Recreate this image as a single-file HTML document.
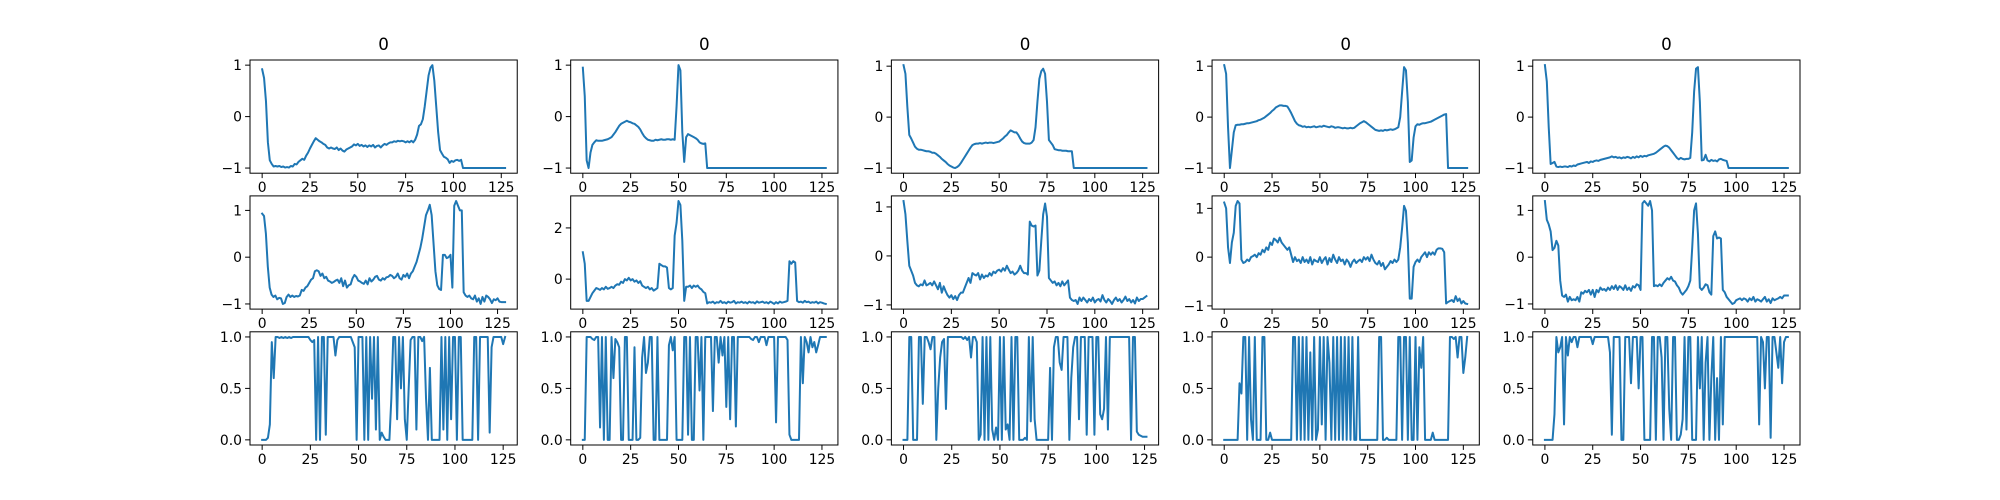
<!DOCTYPE html>
<html><head><meta charset="utf-8"><style>
html,body{margin:0;padding:0;background:#fff}
svg{display:block}
text{font-family:"DejaVu Sans","Liberation Sans",sans-serif;fill:#000}
</style></head><body>
<svg id="fig" width="2000" height="500" viewBox="0 0 2000 500" xmlns="http://www.w3.org/2000/svg"></svg>
<script>
const xTicks=[0,25,50,75,100,125];
const titles=["0","0","0","0","0"];
const a1=[0.92,0.75,0.3,-0.5,-0.85,-0.92,-0.97,-0.96,-0.97,-0.96,-0.98,-0.97,-0.99,-0.98,-0.99,-0.96,-0.97,-0.92,-0.93,-0.88,-0.85,-0.82,-0.84,-0.76,-0.7,-0.62,-0.55,-0.48,-0.42,-0.45,-0.48,-0.5,-0.53,-0.55,-0.6,-0.62,-0.6,-0.62,-0.63,-0.6,-0.65,-0.62,-0.66,-0.68,-0.64,-0.62,-0.6,-0.58,-0.54,-0.56,-0.53,-0.57,-0.55,-0.58,-0.56,-0.59,-0.56,-0.58,-0.55,-0.6,-0.57,-0.56,-0.6,-0.56,-0.53,-0.55,-0.52,-0.5,-0.5,-0.48,-0.49,-0.47,-0.48,-0.47,-0.48,-0.5,-0.48,-0.5,-0.47,-0.5,-0.45,-0.35,-0.18,-0.15,-0.05,0.2,0.5,0.8,0.95,1.0,0.7,0.2,-0.3,-0.65,-0.72,-0.78,-0.8,-0.83,-0.9,-0.86,-0.88,-0.85,-0.84,-0.86,-0.84,-1,-1,-1,-1,-1,-1,-1,-1,-1,-1,-1,-1,-1,-1,-1,-1,-1,-1,-1,-1,-1,-1,-1];
const b1=[0.95,0.4,-0.85,-1,-0.7,-0.55,-0.5,-0.46,-0.47,-0.47,-0.47,-0.46,-0.45,-0.44,-0.42,-0.4,-0.35,-0.3,-0.24,-0.18,-0.14,-0.12,-0.1,-0.08,-0.1,-0.11,-0.13,-0.14,-0.17,-0.2,-0.25,-0.32,-0.38,-0.42,-0.45,-0.46,-0.47,-0.47,-0.45,-0.46,-0.45,-0.44,-0.45,-0.45,-0.44,-0.44,-0.45,-0.44,-0.45,0.2,1.0,0.9,-0.3,-0.88,-0.4,-0.34,-0.36,-0.38,-0.4,-0.42,-0.45,-0.5,-0.52,-0.53,-0.52,-1,-1,-1,-1,-1,-1,-1,-1,-1,-1,-1,-1,-1,-1,-1,-1,-1,-1,-1,-1,-1,-1,-1,-1,-1,-1,-1,-1,-1,-1,-1,-1,-1,-1,-1,-1,-1,-1,-1,-1,-1,-1,-1,-1,-1,-1,-1,-1,-1,-1,-1,-1,-1,-1,-1,-1,-1,-1,-1,-1,-1,-1,-1];
const c1=[1.02,0.85,0.2,-0.35,-0.42,-0.5,-0.58,-0.62,-0.64,-0.64,-0.65,-0.66,-0.67,-0.67,-0.68,-0.7,-0.7,-0.72,-0.75,-0.78,-0.82,-0.85,-0.88,-0.92,-0.95,-0.97,-0.99,-1,-0.98,-0.95,-0.9,-0.84,-0.78,-0.72,-0.66,-0.6,-0.55,-0.53,-0.52,-0.52,-0.51,-0.52,-0.51,-0.5,-0.51,-0.5,-0.5,-0.51,-0.5,-0.49,-0.48,-0.45,-0.42,-0.38,-0.35,-0.3,-0.26,-0.28,-0.3,-0.3,-0.35,-0.42,-0.48,-0.51,-0.52,-0.52,-0.52,-0.5,-0.45,-0.2,0.3,0.75,0.9,0.95,0.85,0.3,-0.45,-0.5,-0.55,-0.63,-0.64,-0.65,-0.65,-0.66,-0.66,-0.66,-0.67,-0.67,-0.67,-1,-1,-1,-1,-1,-1,-1,-1,-1,-1,-1,-1,-1,-1,-1,-1,-1,-1,-1,-1,-1,-1,-1,-1,-1,-1,-1,-1,-1,-1,-1,-1,-1,-1,-1,-1,-1,-1,-1];
const d1=[1.02,0.85,-0.2,-1,-0.65,-0.3,-0.16,-0.15,-0.15,-0.14,-0.14,-0.13,-0.12,-0.12,-0.11,-0.1,-0.09,-0.08,-0.06,-0.05,-0.03,-0.01,0.02,0.05,0.08,0.12,0.15,0.19,0.21,0.23,0.23,0.22,0.22,0.21,0.15,0.08,0.0,-0.08,-0.13,-0.16,-0.17,-0.19,-0.18,-0.2,-0.19,-0.2,-0.19,-0.18,-0.2,-0.19,-0.18,-0.19,-0.17,-0.18,-0.19,-0.2,-0.18,-0.19,-0.21,-0.2,-0.2,-0.21,-0.22,-0.21,-0.22,-0.22,-0.21,-0.22,-0.21,-0.18,-0.15,-0.12,-0.1,-0.08,-0.1,-0.13,-0.16,-0.19,-0.22,-0.25,-0.26,-0.27,-0.26,-0.27,-0.25,-0.26,-0.25,-0.24,-0.25,-0.24,-0.22,-0.2,0.0,0.5,0.98,0.92,0.3,-0.88,-0.85,-0.4,-0.18,-0.14,-0.15,-0.13,-0.12,-0.12,-0.11,-0.1,-0.09,-0.07,-0.05,-0.03,-0.01,0.01,0.03,0.05,0.06,-1,-1,-1,-1,-1,-1,-1,-1,-1,-1,-1];
const e1=[1.02,0.7,-0.2,-0.92,-0.9,-0.88,-0.97,-0.98,-0.97,-0.98,-0.97,-0.97,-0.98,-0.96,-0.97,-0.95,-0.96,-0.93,-0.92,-0.91,-0.9,-0.89,-0.88,-0.9,-0.87,-0.88,-0.86,-0.85,-0.86,-0.84,-0.83,-0.82,-0.81,-0.8,-0.79,-0.77,-0.79,-0.78,-0.8,-0.79,-0.81,-0.79,-0.8,-0.78,-0.79,-0.81,-0.78,-0.8,-0.77,-0.79,-0.76,-0.78,-0.76,-0.77,-0.75,-0.74,-0.73,-0.72,-0.7,-0.67,-0.64,-0.61,-0.58,-0.56,-0.57,-0.6,-0.65,-0.7,-0.75,-0.8,-0.83,-0.8,-0.82,-0.83,-0.82,-0.82,-0.8,-0.3,0.5,0.95,0.98,0.3,-0.85,-0.84,-0.74,-0.85,-0.87,-0.84,-0.86,-0.85,-0.87,-0.83,-0.82,-0.84,-0.85,-0.86,-1,-1,-1,-1,-1,-1,-1,-1,-1,-1,-1,-1,-1,-1,-1,-1,-1,-1,-1,-1,-1,-1,-1,-1,-1,-1,-1,-1,-1,-1,-1,-1];
const a2=[0.93,0.88,0.5,-0.2,-0.65,-0.8,-0.85,-0.82,-0.9,-0.87,-0.88,-1,-0.98,-0.85,-0.8,-0.85,-0.82,-0.85,-0.83,-0.84,-0.82,-0.7,-0.72,-0.65,-0.62,-0.55,-0.48,-0.45,-0.3,-0.28,-0.3,-0.4,-0.35,-0.45,-0.42,-0.5,-0.52,-0.55,-0.53,-0.5,-0.48,-0.55,-0.45,-0.62,-0.5,-0.65,-0.6,-0.58,-0.45,-0.38,-0.42,-0.5,-0.52,-0.55,-0.57,-0.5,-0.58,-0.45,-0.52,-0.48,-0.42,-0.4,-0.48,-0.5,-0.45,-0.48,-0.43,-0.42,-0.38,-0.4,-0.45,-0.42,-0.35,-0.45,-0.48,-0.38,-0.42,-0.35,-0.45,-0.35,-0.3,-0.2,-0.1,0.05,0.2,0.4,0.65,0.9,1.0,1.12,0.9,0.3,-0.3,-0.6,-0.68,-0.7,0.05,0.05,-0.02,0.0,0.05,-0.65,1.1,1.2,1.1,1.0,1.0,-0.75,-0.82,-0.85,-0.82,-0.88,-0.9,-0.82,-0.95,-0.88,-1,-0.85,-0.95,-0.82,-0.85,-0.9,-0.98,-0.9,-0.92,-0.88,-0.95,-0.96,-0.96,-0.96];
const b2=[1.05,0.6,-0.85,-0.85,-0.7,-0.55,-0.45,-0.35,-0.38,-0.42,-0.35,-0.4,-0.3,-0.38,-0.35,-0.3,-0.35,-0.25,-0.2,-0.22,-0.1,-0.15,0.0,-0.05,0.05,-0.05,0.0,-0.1,-0.05,-0.15,-0.08,-0.25,-0.3,-0.35,-0.3,-0.4,-0.35,-0.45,-0.4,-0.35,0.6,0.55,0.5,0.5,0.45,-0.35,-0.4,-0.35,1.7,2.2,3.05,2.9,1.5,-0.85,-0.3,-0.3,-0.25,-0.35,-0.25,-0.3,-0.25,-0.35,-0.4,-0.5,-0.55,-0.95,-0.9,-0.92,-0.88,-0.95,-0.9,-0.92,-0.85,-0.93,-0.9,-0.95,-0.88,-0.92,-0.9,-0.85,-0.95,-0.9,-0.92,-0.88,-0.93,-0.9,-0.95,-0.88,-0.92,-0.9,-0.95,-0.87,-0.92,-0.9,-0.88,-0.93,-0.9,-0.95,-0.88,-0.92,-0.97,-0.9,-0.95,-0.88,-0.92,-0.9,-0.88,-0.85,0.7,0.6,0.7,0.65,-0.85,-0.9,-0.88,-0.92,-0.85,-0.9,-0.88,-0.93,-0.9,-0.92,-0.88,-0.95,-0.9,-0.92,-0.95,-0.97];
const c2=[1.12,0.85,0.3,-0.2,-0.3,-0.4,-0.55,-0.6,-0.62,-0.58,-0.6,-0.5,-0.6,-0.58,-0.55,-0.6,-0.52,-0.6,-0.68,-0.55,-0.75,-0.62,-0.72,-0.8,-0.85,-0.8,-0.88,-0.82,-0.9,-0.8,-0.75,-0.75,-0.65,-0.55,-0.45,-0.55,-0.35,-0.38,-0.4,-0.35,-0.48,-0.38,-0.45,-0.4,-0.42,-0.35,-0.4,-0.32,-0.35,-0.3,-0.28,-0.32,-0.25,-0.3,-0.2,-0.28,-0.35,-0.32,-0.38,-0.35,-0.3,-0.2,-0.3,-0.35,-0.35,-0.38,0.7,0.62,0.6,0.62,-0.4,-0.3,0.3,0.85,1.07,0.8,-0.45,-0.5,-0.55,-0.52,-0.6,-0.55,-0.62,-0.52,-0.6,-0.55,-0.5,-0.85,-0.9,-0.92,-0.9,-0.98,-0.85,-0.92,-0.85,-0.9,-0.95,-0.88,-0.92,-0.85,-0.95,-0.9,-0.88,-0.93,-0.8,-0.9,-0.95,-0.88,-0.92,-0.98,-0.9,-0.85,-0.92,-0.88,-0.95,-0.9,-0.83,-0.92,-0.88,-0.95,-0.9,-0.97,-0.85,-0.92,-0.88,-0.88,-0.85,-0.82];
const d2=[1.12,1.0,0.2,-0.12,0.3,0.5,1.05,1.15,1.1,-0.05,-0.12,-0.1,-0.05,-0.08,0.0,0.02,0.05,0.0,0.08,0.05,0.15,0.1,0.2,0.15,0.3,0.25,0.38,0.35,0.3,0.4,0.3,0.25,0.2,0.15,0.2,0.05,-0.1,0.0,-0.08,-0.05,-0.12,0.0,-0.1,-0.05,-0.12,0.0,-0.15,-0.05,-0.08,-0.1,0.0,-0.12,-0.05,0.0,-0.15,-0.02,-0.1,0.05,-0.05,-0.12,0.0,-0.08,-0.05,-0.15,-0.05,-0.1,-0.2,-0.1,-0.05,-0.12,-0.08,-0.05,-0.1,0.0,-0.05,0.0,-0.08,0.05,-0.05,-0.12,-0.15,-0.08,-0.18,-0.12,-0.25,-0.2,-0.15,-0.08,-0.12,-0.05,-0.1,-0.05,0.2,0.6,1.05,0.95,0.3,-0.85,-0.85,-0.2,-0.1,-0.05,-0.1,0.0,0.05,0.1,0.0,0.1,0.05,0.1,0.05,0.15,0.18,0.18,0.17,0.1,-0.95,-0.92,-0.9,-0.88,-0.92,-0.8,-0.9,-0.85,-0.95,-0.9,-0.95,-0.96];
const e2=[1.2,0.8,0.7,0.55,0.15,0.2,0.35,0.25,-0.5,-0.82,-0.85,-0.8,-0.95,-0.85,-0.92,-0.9,-0.92,-0.85,-0.95,-0.75,-0.78,-0.72,-0.75,-0.7,-0.8,-0.7,-0.85,-0.7,-0.75,-0.65,-0.7,-0.68,-0.72,-0.65,-0.7,-0.62,-0.68,-0.6,-0.7,-0.62,-0.65,-0.7,-0.6,-0.7,-0.65,-0.72,-0.62,-0.65,-0.58,-0.6,-0.7,1.15,1.2,1.15,1.1,1.2,1.0,-0.62,-0.6,-0.62,-0.58,-0.62,-0.55,-0.5,-0.45,-0.48,-0.42,-0.5,-0.52,-0.6,-0.65,-0.75,-0.8,-0.75,-0.7,-0.62,-0.5,0.2,1.0,1.15,0.5,-0.65,-0.7,-0.65,-0.58,-0.6,-0.75,-0.8,0.45,0.55,0.4,0.42,0.4,-0.7,-0.75,-0.85,-0.9,-0.95,-1.0,-0.98,-0.92,-0.9,-0.88,-0.92,-0.88,-0.9,-0.95,-0.88,-0.92,-0.85,-0.95,-0.9,-0.92,-0.95,-0.9,-0.85,-0.95,-0.9,-0.98,-0.88,-0.92,-0.9,-0.88,-0.85,-0.88,-0.82,-0.82,-0.82];
const a3=[0,0,0,0.02,0.15,0.95,0.6,1,1,0.99,1,0.99,1,0.99,1,0.99,1,1,1,1,1,1,1,1,1,0.97,0.95,0.97,0,1,0,1,1,0.05,1,1,1,1,0.82,0.97,1,1,1,1,1,1,1,0.95,0.9,0,1,1,1,0,1,0,1,0.4,1,0.1,1,0,0.07,0.03,0,0,0,0.4,1,1,0.2,1,0.5,1,0.2,0,0.5,0.97,1,1,0.1,1,1,0.96,1,0.4,0,0.7,0,0,0,0,0,1,0.1,1,0,1,0.2,1,1,0,1,1,0,0,0,0,0,0,1,1,0,1,1,1,1,1,0.07,0.9,1,1,1,1,1,0.93,1];
const b3=[0,0,1,1,1,0.98,0.97,1,1,0.12,1,0,1,0,0,1,0.6,0.98,0.95,0.9,0,0,1,1,0,0,0,0.9,0,0,0.02,0.8,1,0.65,0.75,1,1,0,0,1,0,0,0,0,0,0.92,1,0.87,1,0,0,0,0,1,1,0.05,1,0,0,1,1,0.48,1,0,1,1,1,1,0.28,1,1,0.75,1,0.82,1,0.32,1,0.2,1,1,0.13,1,1,1,1,1,1,1,0.98,0.97,1,1,0.95,1,1,1,0.92,1,1,1,1,0.17,1,1,1,1,1,0.97,0.05,0,0,0,0,0,1,0.55,1,0.95,0.85,1,0.9,0.95,0.85,0.92,1,1,1,1];
const c3=[0,0,0,1,1,0,0,0,1,1,0.35,1,1,0.95,0.88,1,1,0,0.5,0.8,0.95,0.98,0.3,1,1,1,1,1,1,1,1,0.98,1,0.97,1,0.8,1,1,0.95,0,0.05,1,0,1,0,1,0.1,0,0.12,0,1,0,1,0.1,0.15,0,1,0,1,1,0,0,0,0.02,0,1,0.18,1,0.2,0,0,0,0,0,0,0,0.7,0,0.9,1,1,0.75,0.68,1,1,1,0,0.6,0.9,1,1,0.2,1,1,1,0.05,1,1,1,0.05,1,1,0.25,0.2,0.3,1,0.1,1,1,1,1,1,1,1,1,1,1,1,0,1,1,0.08,0.05,0.04,0.03,0.03,0.03];
const d3=[0,0,0,0,0,0,0,0,0.55,0.45,1,1,0,1,0.2,0,1,0,0,0,1,1,0,0,0.07,0,0,0,0,0,0,0,0,0,0,0,1,1,0,1,0,1,0,1,0,0.85,0,1,0,0.1,1,0.15,1,0,1,0.75,0,1,0,1,0,1,0,1,0,1,0,1,0,0,1,0,0,0,0,0,0,0,0,0,0,1,1,0,0,0.02,0,0,0,0,0,1,1,0,1,1,0,1,0,0,1,0,0.9,0.7,1,0,0,0,0,0.07,0,0,0,0,0,0,0,0,1,1,0.98,1,0.8,1,1,0.65,0.8,1];
const e3=[0,0,0,0,0,0.25,1,0.85,0.9,1,0.15,1,0.82,1,0.95,1,1,0.9,1,1,1,1,1,1,1,0.93,1,1,1,1,1,1,1,1,0.85,0.05,1,1,1,1,0,0,1,1,1,0.55,1,1,1,0.5,1,1,0,0,0,0,1,1,0,1,1,0.8,0,1,1,0.3,0,1,1,0,0,0.05,0.2,1,0.1,1,1,0,0,0,1,0.5,1,0,0.75,1,0,0.6,1,0,0.6,0,1,0.15,1,1,1,1,1,1,1,1,1,1,1,1,1,1,1,1,1,1,0.15,1,0.95,0.5,1,1,0.02,1,1,0.85,0.7,1,0.55,0.95,1,1];
const series=[[a1,b1,c1,d1,e1],[a2,b2,c2,d2,e2],[a3,b3,c3,d3,e3]];
const yTicksRow1=[-1,0,1];
const yTicksR2=[[-1,0,1],[0,2],[-1,0,1],[-1,0,1],[-1,0,1]];
const yTicksRow3=[0,0.5,1];

const svg=document.getElementById('fig');
const NS='http://www.w3.org/2000/svg';
function mk(tag,attrs,parent){const e=document.createElementNS(NS,tag);for(const k in attrs)e.setAttribute(k,attrs[k]);parent.appendChild(e);return e;}
const L0=250,AW=267.24,GAP=53.45;
const rowTop=[60,195.9,331.8],AH=113.2;
function fmtNum(v,row){let s=row===2?v.toFixed(1):String(v);return s.replace('-','\u2212');}
for(let r=0;r<3;r++){
 for(let c=0;c<5;c++){
  const data=series[r][c];
  const x0=L0+c*(AW+GAP), y0=rowTop[r];
  const g=mk('g',{},svg);
  
  
  const xmin=0,xmax=data.length-1,xm=(xmax-xmin)*0.05;
  let ymin=Math.min(...data),ymax=Math.max(...data);const ym=(ymax-ymin)*0.05;
  const X0=xmin-xm,X1=xmax+xm,Y0=ymin-ym,Y1=ymax+ym;
  const sx=v=>x0+(v-X0)/(X1-X0)*AW;
  const sy=v=>y0+AH-(v-Y0)/(Y1-Y0)*AH;
  const pts=data.map((v,i)=>sx(i).toFixed(2)+','+sy(v).toFixed(2)).join(' ');
  const line=mk('polyline',{points:pts,fill:'none',stroke:'#1f77b4','stroke-width':'2','stroke-linejoin':'round','stroke-linecap':'square'},g);
  
  
  const fr=mk('rect',{x:x0,y:y0,width:AW,height:AH,fill:'none',stroke:'#000','stroke-width':'1'},g);
  
  
  xTicks.forEach(t=>{const px=sx(t);
   mk('line',{x1:px,x2:px,y1:y0+AH,y2:y0+AH+4.9,stroke:'#000','stroke-width':'1'},g);
   const tx=mk('text',{x:px,y:y0+AH+19,'font-size':'13.9','text-anchor':'middle'},g);
   tx.textContent=String(t);
   
   });
  const yt=r===0?yTicksRow1:(r===1?yTicksR2[c]:yTicksRow3);
  yt.forEach(t=>{const py=sy(t);
   mk('line',{x1:x0-4.9,x2:x0,y1:py,y2:py,stroke:'#000','stroke-width':'1'},g);
   const tx=mk('text',{x:x0-8,y:py+5,'font-size':'13.9','text-anchor':'end'},g);
   tx.textContent=fmtNum(t,r);
   
   });
  if(r===0){const tt=mk('text',{x:x0+AW/2,y:y0-10,'font-size':'16.7','text-anchor':'middle'},g);
   tt.textContent=titles[c];
   
   }
 }
}
</script>
</body></html>
